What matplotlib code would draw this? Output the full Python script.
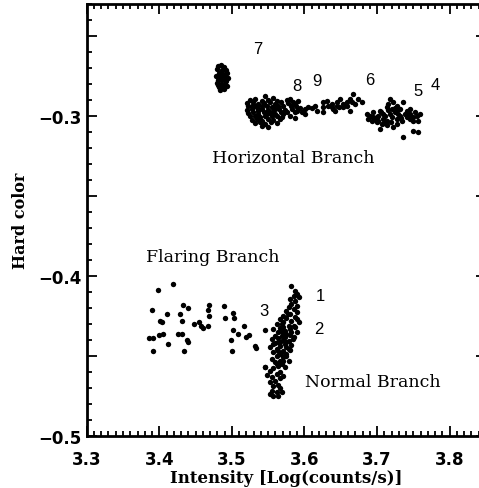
import matplotlib
matplotlib.use("Agg")
import matplotlib.pyplot as plt
from matplotlib.ticker import MultipleLocator, FuncFormatter

# vertex 7 (upper left blob)
c7_x = [3.481, 3.485, 3.489, 3.479, 3.486, 3.492, 3.482, 3.488, 3.493, 3.478, 3.484, 3.491, 3.481,
        3.486, 3.492, 3.479, 3.485, 3.491, 3.482, 3.488, 3.493, 3.484, 3.489, 3.481, 3.495]
c7_y = [-0.2688, -0.2680, -0.2694, -0.2706, -0.2713, -0.2713, -0.2731, -0.2738, -0.2731, -0.2750,
        -0.2756, -0.2756, -0.2775, -0.2775, -0.2781, -0.2794, -0.2800, -0.2800, -0.2819, -0.2819,
        -0.2813, -0.2838, -0.2831, -0.2806, -0.2763]

# horizontal branch, left blob
hb_x = [3.5455, 3.5570,
        3.5249, 3.5318, 3.5409, 3.5501, 3.5616, 3.5754,
        3.5203, 3.5295, 3.5363, 3.5446, 3.5524, 3.5593, 3.5676, 3.5777, 3.5845,
        3.5226, 3.5272, 3.5340, 3.5409, 3.5478, 3.5547, 3.5639, 3.5708, 3.5813, 3.5877,
        3.5203, 3.5272, 3.5354, 3.5418, 3.5501, 3.5570, 3.5648, 3.5731, 3.5832, 3.5914,
        3.5226, 3.5295, 3.5363, 3.5446, 3.5524, 3.5593, 3.5676, 3.5754, 3.5868, 3.5960,
        3.5249, 3.5318, 3.5386, 3.5455, 3.5547, 3.5616, 3.5694, 3.5799, 3.6006,
        3.5272, 3.5340, 3.5418, 3.5501, 3.5570, 3.5662, 3.5868,
        3.5318, 3.5386, 3.5455, 3.5538, 3.5616,
        3.5409, 3.5501,
        3.5363, 3.5478, 3.5593, 3.5318, 3.5708]
hb_y = [-0.2877, -0.2889,
        -0.2898, -0.2894, -0.2904, -0.2898, -0.2904, -0.2898,
        -0.2919, -0.2914, -0.2925, -0.2919, -0.2914, -0.2925, -0.2914, -0.2919, -0.2910,
        -0.2939, -0.2935, -0.2946, -0.2935, -0.2939, -0.2946, -0.2935, -0.2939, -0.2935, -0.2935,
        -0.2960, -0.2956, -0.2966, -0.2956, -0.2960, -0.2966, -0.2956, -0.2960, -0.2956, -0.2956,
        -0.2981, -0.2977, -0.2987, -0.2977, -0.2981, -0.2987, -0.2977, -0.2973, -0.2977, -0.2973,
        -0.3002, -0.2998, -0.3008, -0.2998, -0.3002, -0.2998, -0.3008, -0.2998, -0.2987,
        -0.3023, -0.3018, -0.3029, -0.3018, -0.3023, -0.3018, -0.3014,
        -0.3043, -0.3039, -0.3050, -0.3039, -0.3043,
        -0.3064, -0.3070,
        -0.2956, -0.2987, -0.2956, -0.2935, -0.2987]

# horizontal branch, middle part and vertex 6
mid_x = [3.5800, 3.5869, 3.5915, 3.5892, 3.5937, 3.6006, 3.6052, 3.6098, 3.6144, 3.6167,
         3.6259, 3.6259, 3.6250, 3.6328, 3.6373, 3.6396, 3.6442, 3.6479, 3.6534, 3.6580,
         3.6626, 3.6672, 3.6695, 3.6741, 3.6787, 3.6626, 3.6534, 3.6419, 3.6305, 3.6488,
         3.6580, 3.6649, 3.6442, 3.6373]
mid_y = [-0.2893, -0.2924, -0.2903, -0.2966, -0.2951, -0.2955, -0.2945, -0.2951, -0.2935, -0.2966,
         -0.2914, -0.2945, -0.2976, -0.2935, -0.2924, -0.2955, -0.2914, -0.2945, -0.2924, -0.2910,
         -0.2893, -0.2862, -0.2924, -0.2893, -0.2914, -0.2966, -0.2945, -0.2966, -0.2903, -0.2893,
         -0.2935, -0.2914, -0.2935, -0.2945]

# horizontal branch, right blob (vertices 5, 4)
rb_x = [3.6855, 3.6901, 3.6947, 3.6993, 3.7039, 3.7085, 3.7131, 3.7177, 3.7154, 3.7223,
        3.7269, 3.7315, 3.7361, 3.7407, 3.7452, 3.7498, 3.7544, 3.7590, 3.6924, 3.6993,
        3.7062, 3.7131, 3.7200, 3.7269, 3.7338, 3.7407, 3.7498, 3.7567, 3.7039, 3.7223,
        3.7361, 3.7498, 3.7567, 3.6970, 3.7085, 3.7177, 3.7246, 3.7315, 3.7452, 3.7016,
        3.7108, 3.7200, 3.7292, 3.7384, 3.7452, 3.7521, 3.7131, 3.7269, 3.6947, 3.6878,
        3.7060, 3.7150, 3.7240, 3.7190, 3.7100, 3.7010, 3.7280, 3.7330]
rb_y = [-0.2987, -0.2997, -0.2976, -0.3007, -0.2966, -0.2987, -0.2945, -0.2893, -0.2924, -0.2914,
        -0.2935, -0.2955, -0.2914, -0.2966, -0.2987, -0.3007, -0.2997, -0.2987, -0.3028, -0.3039,
        -0.3049, -0.3028, -0.3007, -0.3018, -0.3028, -0.3007, -0.3028, -0.3028, -0.3080, -0.3070,
        -0.3132, -0.3091, -0.3101, -0.3018, -0.3018, -0.2987, -0.2976, -0.2997, -0.2955, -0.2997,
        -0.2997, -0.2955, -0.2987, -0.2987, -0.3018, -0.2976, -0.3059, -0.3049, -0.3007, -0.3018,
        -0.2975, -0.2965, -0.2950, -0.3040, -0.3045, -0.3030, -0.2965, -0.3010]

# flaring branch
fb_x = [3.419, 3.398, 3.390, 3.433, 3.439, 3.410, 3.401, 3.404, 3.429, 3.431, 3.448, 3.455,
        3.457, 3.460, 3.467, 3.468, 3.467, 3.468, 3.489, 3.490, 3.502, 3.503, 3.405, 3.399,
        3.392, 3.386, 3.412, 3.392, 3.426, 3.431, 3.438, 3.439, 3.434, 3.502, 3.509, 3.516,
        3.519, 3.524, 3.499, 3.500, 3.532, 3.533, 3.545, 3.545]
fb_y = [-0.405, -0.409, -0.421, -0.418, -0.420, -0.424, -0.428, -0.429, -0.424, -0.428, -0.430,
        -0.429, -0.431, -0.4325, -0.431, -0.425, -0.421, -0.418, -0.419, -0.426, -0.423, -0.426,
        -0.436, -0.437, -0.439, -0.439, -0.4425, -0.447, -0.436, -0.436, -0.440, -0.441, -0.447,
        -0.434, -0.436, -0.431, -0.438, -0.437, -0.440, -0.447, -0.4435, -0.445, -0.434, -0.457]

# normal branch
nb_x = [3.582, 3.587, 3.589, 3.585, 3.592, 3.580, 3.587, 3.582, 3.589, 3.578, 3.585, 3.575,
        3.589, 3.580, 3.571, 3.587, 3.575, 3.566, 3.582, 3.592, 3.571, 3.562, 3.578, 3.587,
        3.566, 3.557, 3.573, 3.582, 3.564, 3.589, 3.575, 3.559, 3.569, 3.585, 3.555, 3.571,
        3.578, 3.564, 3.557, 3.573, 3.582, 3.566, 3.553, 3.575, 3.562, 3.571, 3.580, 3.557,
        3.566, 3.575, 3.562, 3.571, 3.555, 3.566, 3.578, 3.559, 3.569, 3.564, 3.573, 3.557,
        3.553, 3.566, 3.546, 3.562, 3.571, 3.555, 3.548, 3.566, 3.559, 3.553, 3.564, 3.557,
        3.566, 3.555, 3.562, 3.557, 3.564, 3.553, 3.569,
        3.569, 3.580, 3.573, 3.566, 3.578, 3.564, 3.571, 3.562, 3.585, 3.589, 3.569, 3.575,
        3.577, 3.584, 3.560, 3.568, 3.574, 3.580, 3.563, 3.570]
nb_y = [-0.4065, -0.4092, -0.4113, -0.4123, -0.4133, -0.4144, -0.4154, -0.4175, -0.4185, -0.4196,
        -0.4206, -0.4217, -0.4227, -0.4237, -0.4248, -0.4258, -0.4264, -0.4269, -0.4279, -0.4289,
        -0.4289, -0.4300, -0.4310, -0.4321, -0.4327, -0.4331, -0.4341, -0.4348, -0.4352, -0.4352,
        -0.4362, -0.4373, -0.4377, -0.4383, -0.4393, -0.4398, -0.4404, -0.4410, -0.4425, -0.4425,
        -0.4431, -0.4435, -0.4445, -0.4445, -0.4456, -0.4466, -0.4460, -0.4477, -0.4487, -0.4487,
        -0.4502, -0.4508, -0.4518, -0.4529, -0.4529, -0.4539, -0.4549, -0.4564, -0.4570, -0.4576,
        -0.4591, -0.4597, -0.4570, -0.4612, -0.4622, -0.4633, -0.4618, -0.4639, -0.4653, -0.4664,
        -0.4680, -0.4689, -0.4701, -0.4716, -0.4726, -0.4747, -0.4751, -0.4737, -0.4726,
        -0.4300, -0.4331, -0.4383, -0.4414, -0.4456, -0.4466, -0.4529, -0.4549, -0.4310, -0.4269,
        -0.4352, -0.4414,
        -0.4240, -0.4395, -0.4420, -0.4480, -0.4500, -0.4370, -0.4390, -0.4320]

# vertex numbers and branch names
vert_labels = ["7", "8", "9", "6", "5", "4", "1", "2", "3"]
vert_x = [3.536, 3.589, 3.617, 3.690, 3.757, 3.780, 3.622, 3.620, 3.544]
vert_y = [-0.258, -0.281, -0.278, -0.277, -0.284, -0.2806, -0.412, -0.4327, -0.4217]

branch_labels = ["Horizontal Branch", "Flaring Branch", "Normal Branch"]
branch_x = [3.585, 3.474, 3.694]
branch_y = [-0.326, -0.3875, -0.466]

fig = plt.figure(figsize=(4.79, 4.89), dpi=100)
# right spine falls just outside the picture, as in the original
ax = fig.add_axes([0.181, 0.1063, 0.8336, 0.8834])

for xs, ys in [(c7_x, c7_y), (hb_x, hb_y), (mid_x, mid_y), (rb_x, rb_y), (fb_x, fb_y), (nb_x, nb_y)]:
    ax.scatter(xs, ys, s=15, c="black", linewidths=0)

for t, x, y in zip(vert_labels, vert_x, vert_y):
    ax.text(x, y, t, ha="center", va="center", fontsize=12, family="Liberation Sans")
for t, x, y in zip(branch_labels, branch_x, branch_y):
    ax.text(x, y, t, ha="center", va="center", fontsize=12.5, family="DejaVu Serif")

ax.set_xlim(3.3, 3.85)
ax.set_ylim(-0.5, -0.23)

ax.xaxis.set_major_locator(MultipleLocator(0.1))
ax.xaxis.set_minor_locator(MultipleLocator(0.01))
ax.yaxis.set_major_locator(MultipleLocator(0.05))
ax.yaxis.set_minor_locator(MultipleLocator(0.01))
ax.xaxis.set_major_formatter(FuncFormatter(lambda v, p: "%.1f" % v))
ax.yaxis.set_major_formatter(FuncFormatter(
    lambda v, p: ("%.1f" % v).replace("-", "\u2212") if abs(v * 10 - round(v * 10)) < 1e-6 else ""))

ax.tick_params(which="both", direction="in", top=True, right=True, width=1.3)
ax.tick_params(which="major", length=7)
ax.tick_params(which="minor", length=3.5)
ax.tick_params(axis="x", which="major", pad=10)
ax.tick_params(axis="y", which="major", pad=4)
for lab in ax.get_xticklabels() + ax.get_yticklabels():
    lab.set_fontsize(12)
    lab.set_fontweight("bold")
for sp in ax.spines.values():
    sp.set_linewidth(2)

ax.set_xlabel("Intensity [Log(counts/s)]", fontsize=12, fontweight="bold", family="DejaVu Serif", labelpad=1)
ax.set_ylabel("Hard color", fontsize=11.5, fontweight="bold", family="DejaVu Serif", labelpad=6)

fig.savefig("out.png", dpi=100)
